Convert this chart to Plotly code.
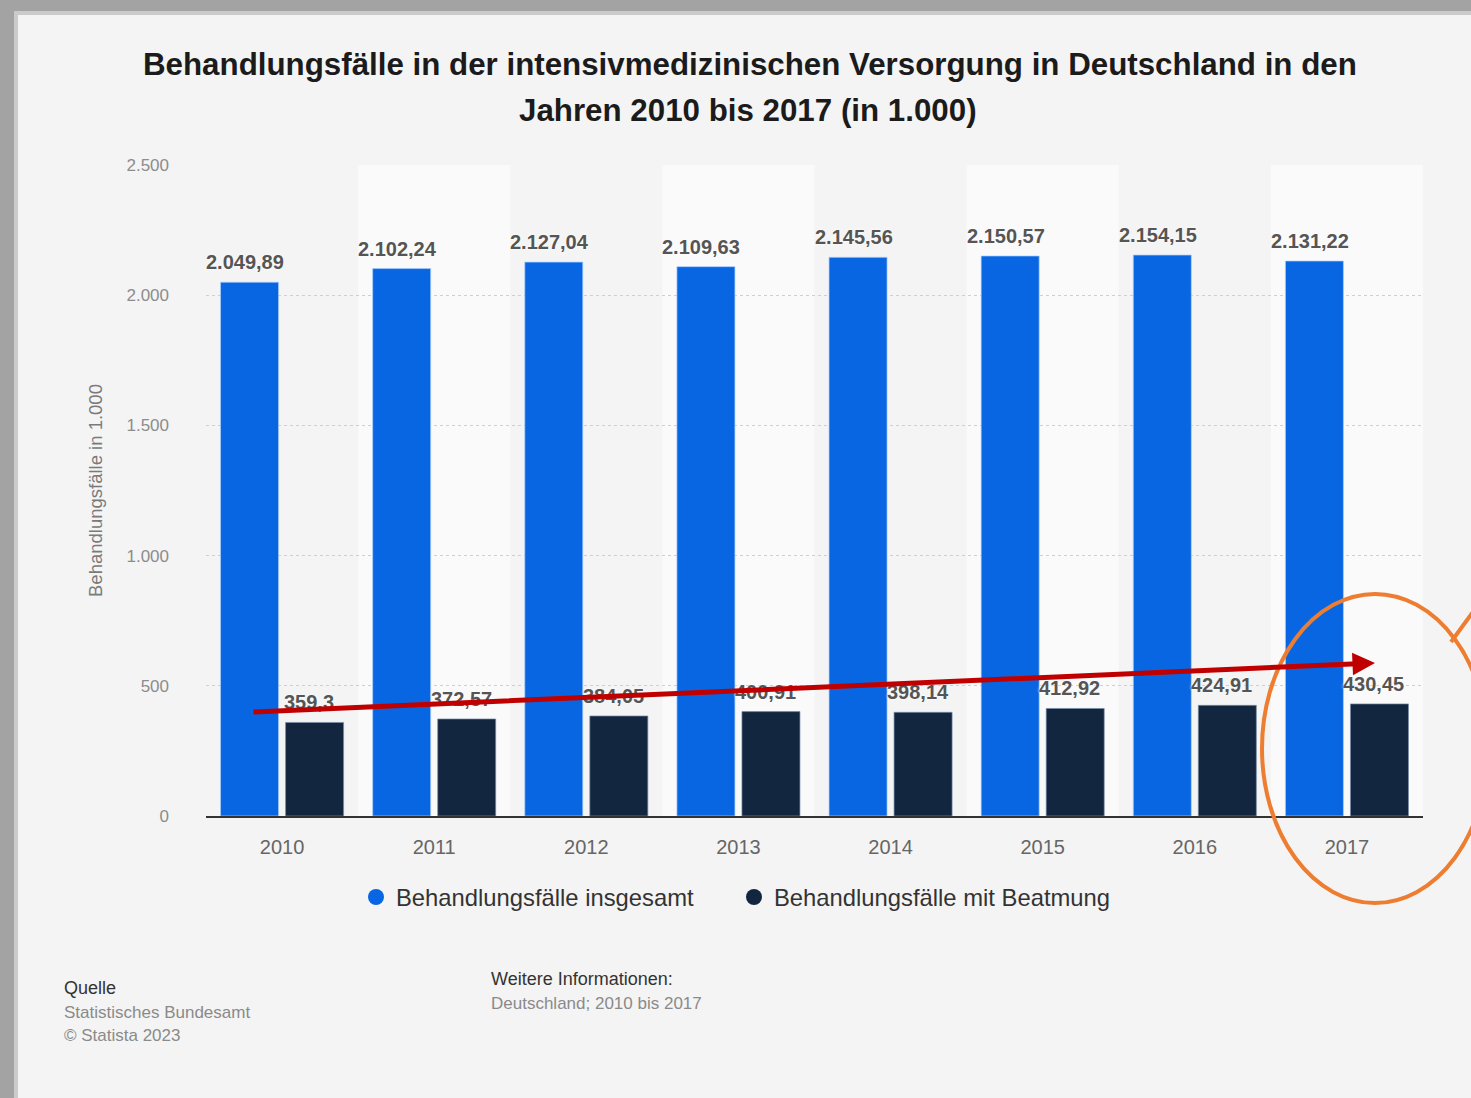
import plotly.graph_objects as go

# Data: ICU treatment cases in Germany (in thousands)
years = ["2010", "2011", "2012", "2013", "2014", "2015", "2016", "2017"]
cases_total = [2049.89, 2102.24, 2127.04, 2109.63, 2145.56, 2150.57, 2154.15, 2131.22]
cases_ventilated = [359.3, 372.57, 384.05, 400.91, 398.14, 412.92, 424.91, 430.45]
series_names = ["Behandlungsfälle insgesamt", "Behandlungsfälle mit Beatmung"]
y_ticks = [0, 500, 1000, 1500, 2000, 2500]

BLUE = "#0866e3"
NAVY = "#13263f"
FONT = "Liberation Sans, Arial, sans-serif"

W, H = 1471, 1098
ML, MR, MT, MB = 206, 48, 165, 282


def px(x):
    return (x - ML) / (W - ML - MR)


def py(y):
    return (H - MB - y) / (H - MT - MB)


def de_num(v):
    s = f"{v:,.2f}".rstrip("0").rstrip(".")
    return s.replace(",", "X").replace(".", ",").replace("X", ".")


def de_tick(v):
    return f"{v:,}".replace(",", ".")


fig = go.Figure()

fig.add_trace(go.Bar(x=years, y=cases_total, name=series_names[0], marker_color=BLUE,
                     marker_line=dict(color="rgba(170,205,255,0.7)", width=1),
                     showlegend=False, hoverinfo="skip"))
fig.add_trace(go.Bar(x=years, y=cases_ventilated, name=series_names[1], marker_color=NAVY,
                     marker_line=dict(color="rgba(120,140,170,0.7)", width=1),
                     showlegend=False, hoverinfo="skip"))

# round legend symbols
for name, col in zip(series_names, [BLUE, NAVY]):
    fig.add_trace(go.Scatter(x=[None], y=[None], mode="markers", name=name,
                             marker=dict(color=col, size=22, symbol="circle")))

annotations = []
label_font = dict(family=FONT, size=20, color="#555555", weight="bold",
                  shadow="0px 0px 3px #ffffff")
for i, (vt, vv) in enumerate(zip(cases_total, cases_ventilated)):
    annotations.append(dict(x=i, y=vt, xref="x", yref="y", text=de_num(vt), showarrow=False,
                            xshift=-37, yshift=7, yanchor="bottom", font=label_font))
    annotations.append(dict(x=i, y=vv, xref="x", yref="y", text=de_num(vv), showarrow=False,
                            xshift=27, yshift=7, yanchor="bottom", font=label_font))

# title lines
title_font = dict(family=FONT, size=31.3, color="#1b1b1b", weight="bold")
annotations.append(dict(x=px(750), y=py(64), xref="paper", yref="paper", showarrow=False,
                        text="Behandlungsfälle in der intensivmedizinischen Versorgung in Deutschland in den",
                        font=title_font, xanchor="center", yanchor="middle"))
annotations.append(dict(x=px(748), y=py(110), xref="paper", yref="paper", showarrow=False,
                        text="Jahren 2010 bis 2017 (in 1.000)",
                        font=title_font, xanchor="center", yanchor="middle"))

# y axis title
annotations.append(dict(x=px(95), y=py(491), xref="paper", yref="paper", showarrow=False,
                        text="Behandlungsfälle in 1.000", textangle=-90,
                        font=dict(family=FONT, size=18.5, color="#7a7a7a"),
                        xanchor="center", yanchor="middle"))

# footer
foot = [("Quelle", 62, 988, "#333333", 18), ("Statistisches Bundesamt", 62, 1012, "#8a8a8a", 17),
        ("© Statista 2023", 62, 1035, "#8a8a8a", 17), ("Weitere Informationen:", 489, 979, "#333333", 18),
        ("Deutschland; 2010 bis 2017", 489, 1003, "#8a8a8a", 17)]
for txt, x, y, col, sz in foot:
    annotations.append(dict(x=px(x), y=py(y), xref="paper", yref="paper", showarrow=False, text=txt,
                            font=dict(family=FONT, size=sz, color=col),
                            xanchor="left", yanchor="middle"))

# red trend arrow
annotations.append(dict(x=px(1375), y=py(663), xref="paper", yref="paper", text="",
                        showarrow=True, arrowhead=2, arrowsize=0.9, arrowwidth=5,
                        arrowcolor="#c00000", ax=252 - 1375, ay=712 - 663, standoff=0))

shapes = []
# alternating column bands
for i in range(len(years)):
    if i % 2 == 1:
        shapes.append(dict(type="rect", xref="x", yref="paper", x0=i - 0.5, x1=i + 0.5,
                           y0=0, y1=1, fillcolor="#fafafa", line_width=0, layer="below"))

# window frame (top and left edges)
shapes += [
    dict(type="rect", xref="paper", yref="paper", x0=px(0), x1=px(W + 5), y0=py(0), y1=py(15),
         fillcolor="#cbcbcb", line_width=0),
    dict(type="rect", xref="paper", yref="paper", x0=px(0), x1=px(18), y0=py(0), y1=py(H + 5),
         fillcolor="#cbcbcb", line_width=0),
    dict(type="rect", xref="paper", yref="paper", x0=px(0), x1=px(W + 5), y0=py(0), y1=py(11),
         fillcolor="#a3a3a3", line_width=0),
    dict(type="rect", xref="paper", yref="paper", x0=px(0), x1=px(14), y0=py(0), y1=py(H + 5),
         fillcolor="#a3a3a3", line_width=0),
]

# orange highlight around 2017
shapes.append(dict(type="circle", xref="paper", yref="paper", x0=px(1262), x1=px(1488),
                   y0=py(903), y1=py(594), line=dict(color="#ed7d31", width=4)))
shapes.append(dict(type="line", xref="paper", yref="paper", x0=px(1451), y0=py(642),
                   x1=px(1495), y1=py(582), line=dict(color="#ed7d31", width=4)))

fig.update_layout(
    width=W, height=H, autosize=False,
    margin=dict(l=ML, r=MR, t=MT, b=MB, pad=0),
    paper_bgcolor="#f4f4f4", plot_bgcolor="#f4f4f4",
    barmode="group", bargap=0.145, bargroupgap=0.108,
    font=dict(family=FONT),
    showlegend=True,
    legend=dict(orientation="h", x=px(356), y=py(897), xanchor="left", yanchor="middle",
                font=dict(family=FONT, size=23.8, color="#333333"), bgcolor="rgba(0,0,0,0)",
                itemclick=False, itemdoubleclick=False, entrywidth=333, entrywidthmode="pixels"),
    annotations=annotations, shapes=shapes,
    xaxis=dict(type="category", range=[-0.5, len(years) - 0.5], showgrid=False,
               showline=True, linecolor="#333333", linewidth=2, ticks="",
               tickfont=dict(family=FONT, size=20, color="#666666"), ticklabelstandoff=12,
               fixedrange=True),
    yaxis=dict(range=[0, 2500], tickvals=y_ticks, ticktext=[de_tick(v) for v in y_ticks],
               showgrid=True, gridcolor="#cfcfcf", griddash="dot", gridwidth=1,
               zeroline=False, showline=False, ticks="",
               tickfont=dict(family=FONT, size=17, color="#8c8c8c"), ticklabelstandoff=36,
               fixedrange=True),
)

fig.write_html("out.html")
